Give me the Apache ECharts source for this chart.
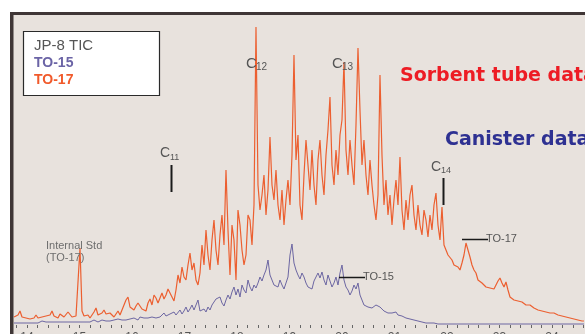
<!DOCTYPE html>
<html><head><meta charset="utf-8">
<script src="https://cdn.jsdelivr.net/npm/echarts@6/dist/echarts.min.js"></script>
<style>html,body{margin:0;padding:0;background:#fff}#c{width:585px;height:334px}</style>
</head><body><div id="c"></div>
<script>
// sampling of the chromatogram (retention time, min)
const sampleStart = 13.752;
const sampleStep = 0.0381;
const tickLabels = [14,15,16,17,18,19,20,21,22,23,24];
const legendItems = ['JP-8 TIC','TO-15','TO-17'];

// TO-17 (sorbent tube) abundance
const to17 = [
8,7,10,14,8,6,7,9,6,8,
7,10,7,6,8,7,9,7,10,14,
9,8,7,11,12,8,9,13,11,8,
7,9,8,77,14,9,8,10,7,9,
13,17,10,9,12,15,11,9,12,10,
8,11,14,10,12,20,25,28,18,20,
15,19,22,24,16,18,14,22,26,20,
30,27,22,24,32,26,30,36,38,28,
24,35,50,42,58,48,45,60,72,55,
62,45,40,52,80,60,95,70,55,85,
105,75,60,90,110,80,155,95,50,100,
85,45,115,100,75,60,70,110,105,80,
120,298,140,115,130,150,110,135,188,140,
125,155,120,105,135,100,125,145,120,170,
270,165,190,120,105,150,185,160,135,175,
140,120,165,185,150,130,170,195,228,160,
140,175,150,190,205,263,175,150,185,160,
140,200,277,215,160,185,150,130,165,140,
120,105,130,250,170,120,145,110,130,100,
125,145,120,168,115,95,125,105,130,140,
110,95,120,100,90,115,105,88,110,95,
120,132,100,85,118,80,78,70,72,65,
60,62,58,55,62,70,82,75,68,60,
55,52,45,43,42,40,38,40,37,38,
36,40,44,47,42,38,43,35,28,27,
25,26,24,22,23,21,20,19,20,18,
17,16,15,14,14,13,13,12,12,11,
12,10,10,9,9,8,8,8,7,7,
6,6,5,5,4,4
];

// TO-15 (canister) abundance
const to15 = [
2,3,2,4,2,3,2,3,2,3,
2,3,2,3,4,2,3,2,3,4,
3,2,3,4,3,2,3,4,3,2,
3,2,3,4,3,5,3,4,3,4,
5,4,3,4,5,3,4,5,4,3,
5,4,6,4,5,6,5,4,6,5,
7,6,5,8,6,7,9,7,6,8,
10,7,9,8,10,12,9,8,11,9,
13,10,12,15,11,14,18,13,16,20,
15,17,25,14,12,16,13,18,15,20,
22,26,24,28,22,19,25,30,26,33,
38,30,36,28,40,35,32,45,38,34,
40,37,42,48,44,50,55,65,50,45,
40,42,38,45,40,36,42,48,70,81,
62,55,50,46,52,48,42,38,40,36,
44,48,52,47,53,45,40,50,44,38,
42,48,40,52,60,45,38,35,30,34,
40,36,42,30,25,20,22,18,20,17,
19,20,22,18,16,14,15,12,11,12,
10,13,10,8,9,8,7,8,6,5,
5,4,4,3,3,2,2,2,2,2,
2,1,1,1,1,1,1,1,1,1,
1,1,1,1,1,1,1,1,1,1,
1,1,1,1,1,1,1,1,1,1,
1,1,1,1,1,1,1,1,1,1,
1,1,1,1,1,1,1,1,1,1,
1,1,1,1,1,1,1,1,1,1,
1,1,1,1,1,1,1,1,1,1,
1,1,1,1,1,1
];

const pairs = arr => arr.map((v, i) => [+(sampleStart + i * sampleStep).toFixed(4), v]);
const minorTicks = [];
for (let k = 69; k <= 123; k++) minorTicks.push(+(k * 0.2).toFixed(2));

const chart = echarts.init(document.getElementById('c'), null, {renderer: 'canvas'});
const SANS = '"Liberation Sans", Arial, sans-serif';
const VERD = '"DejaVu Sans", Verdana, sans-serif';
function txt(x, y, text, fill, font, z) {
  return {type: 'text', x: x, y: y, z: z || 50,
    style: {text: text, fill: fill, font: font, align: 'left', verticalAlign: 'middle'}};
}
function seg(x1, y1, x2, y2, w) {
  return {type: 'line', z: 50, shape: {x1: x1, y1: y1, x2: x2, y2: y2},
    style: {stroke: '#1a1a1a', lineWidth: w || 1.5}};
}
chart.setOption({
  animation: false,
  backgroundColor: '#ffffff',
  grid: {left: 13, right: 0, top: 15, bottom: 9, containLabel: false, outerBoundsMode: 'none'},
  xAxis: {
    type: 'value', min: 13.733, max: 24.63, offset: 2,
    axisLine: {show: false}, splitLine: {show: false},
    axisTick: {show: true, customValues: minorTicks, length: 3, lineStyle: {color: '#666', width: 1}},
    axisLabel: {show: true, customValues: tickLabels, margin: 5, fontSize: 12, color: '#555', fontFamily: SANS, hideOverlap: false}
  },
  yAxis: {type: 'value', min: 0, max: 310, show: false},
  graphic: {elements: [
    {type: 'rect', z: -10, shape: {x: 10, y: 12, width: 580, height: 330}, style: {fill: '#e8e2dd'}},
    {type: 'rect', z: 40, shape: {x: 10, y: 12, width: 580, height: 3}, style: {fill: '#3f3636'}},
    {type: 'rect', z: 40, shape: {x: 10, y: 12, width: 3.5, height: 330}, style: {fill: '#3f3636'}},
    {type: 'rect', z: 45, shape: {x: 23.5, y: 31.5, width: 136, height: 64}, style: {fill: '#ffffff', stroke: '#2a2a2a', lineWidth: 1.2}},
    txt(34, 46, legendItems[0], '#555555', '15px ' + SANS, 60),
    txt(34, 63.5, legendItems[1], '#6b64a6', 'bold 14px ' + SANS, 60),
    txt(34, 80, legendItems[2], '#f15a2b', 'bold 14px ' + SANS, 60),
    txt(400, 76, 'Sorbent tube data', '#ed1c24', 'bold 19px ' + VERD),
    txt(445, 140.5, 'Canister data', '#2e3192', 'bold 19px ' + VERD),
    txt(246, 63.5, 'C', '#555555', '15px ' + SANS), txt(256, 67, '12', '#555555', '10px ' + SANS),
    txt(332, 63.5, 'C', '#555555', '15px ' + SANS), txt(342, 67, '13', '#555555', '10px ' + SANS),
    txt(160, 153, 'C', '#555555', '14px ' + SANS), txt(170, 158, '11', '#555555', '9px ' + SANS),
    txt(431, 167, 'C', '#555555', '14px ' + SANS), txt(441, 170.5, '14', '#555555', '9px ' + SANS),
    seg(171.5, 165, 171.5, 192, 2), seg(443.5, 178, 443.5, 205, 2),
    txt(46, 246, 'Internal Std', '#6e6e6e', '11px ' + SANS),
    txt(46, 258, '(TO-17)', '#6e6e6e', '11px ' + SANS),
    seg(339, 277.5, 365, 277.5, 1.5), txt(363, 277, 'TO-15', '#555555', '11px ' + SANS),
    seg(462, 239.5, 488, 239.5, 1.5), txt(486, 239, 'TO-17', '#555555', '11px ' + SANS)
  ]},
  series: [
    {name: 'TO-15', type: 'line', data: pairs(to15), symbol: 'none', sampling: null, z: 3,
      lineStyle: {color: '#6c66a2', width: 1}},
    {name: 'TO-17', type: 'line', data: pairs(to17), symbol: 'none', sampling: null, z: 4,
      lineStyle: {color: '#ec5f30', width: 1.2}}
  ]
});
</script>
</body></html>
